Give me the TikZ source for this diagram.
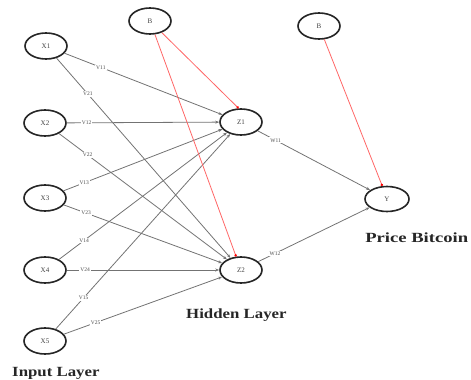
\documentclass[tikz,border=0pt]{standalone}
\usepackage{fontspec}
\setmainfont{Liberation Serif}
\usetikzlibrary{arrows.meta,shapes.geometric}
\begin{document}
\begin{tikzpicture}[x=1pt,y=-1pt,
  neuron/.style={draw=black!85, line width=1.6pt, ellipse, minimum width=42pt, minimum height=26pt, inner sep=0pt, font=\fontsize{7}{8}\selectfont, text=black!75},
  conn/.style={draw=black!55, line width=0.8pt, -{Stealth[length=4pt,width=3pt]}},
  bias/.style={draw=red!60, line width=0.8pt, -{Circle[length=2.5pt,red]}},
  lbl/.style={fill=white, inner sep=1pt, font=\fontsize{5.5}{6}\selectfont, text=black!70},
  layer/.style={font=\bfseries\fontsize{14}{16}\selectfont, inner sep=0pt, text=black!85}]
\useasboundingbox (0,0) rectangle (471,380);
\node[neuron] (x1) at (46,46) {X1};
\node[neuron] (x2) at (45,123) {X2};
\node[neuron] (x3) at (45,198) {X3};
\node[neuron] (x4) at (45,270) {X4};
\node[neuron] (x5) at (45,341) {X5};
\node[neuron] (b1) at (150,21) {B};
\node[neuron] (z1) at (241,122) {Z1};
\node[neuron] (z2) at (241,270) {Z2};
\node[neuron] (b2) at (319,26) {B};
\node[neuron, minimum width=44pt, minimum height=25pt] (y) at (387,199) {Y};
\node[layer, anchor=west, xscale=1.2] (in) at (12,373) {Input Layer};
\node[layer, anchor=west, xscale=1.2] (hid) at (186,315) {Hidden Layer};
\node[layer, anchor=west, xscale=1.33] (out) at (365,238) {Price Bitcoin};
\draw[conn] (x1) -- node[lbl,pos=0.23] {V11} (z1);
\draw[conn] (x1) -- node[lbl,pos=0.18] {V21} (z2);
\draw[conn] (x2) -- node[lbl,pos=0.13] {V12} (z1);
\draw[conn] (x2) -- node[lbl,pos=0.17] {V22} (z2);
\draw[conn] (x3) -- node[lbl,pos=0.13] {V13} (z1);
\draw[conn] (x3) -- node[lbl,pos=0.14] {V23} (z2);
\draw[conn] (x4) -- node[lbl,pos=0.15] {V14} (z1);
\draw[conn] (x4) -- node[lbl,pos=0.12] {V24} (z2);
\draw[conn] (x5) -- node[lbl,pos=0.16] {V15} (z1);
\draw[conn] (x5) -- node[lbl,pos=0.2] {V25} (z2.200);
\draw[conn] (z1) -- node[lbl,pos=0.16] {W11} (y);
\draw[conn] (z2) -- node[lbl,pos=0.15] {W12} (y);
\draw[bias] (b1) -- (z1.100);
\draw[bias] (b1) -- (z2.110);
\draw[bias] (b2) -- (y.110);
\end{tikzpicture}
\end{document}
